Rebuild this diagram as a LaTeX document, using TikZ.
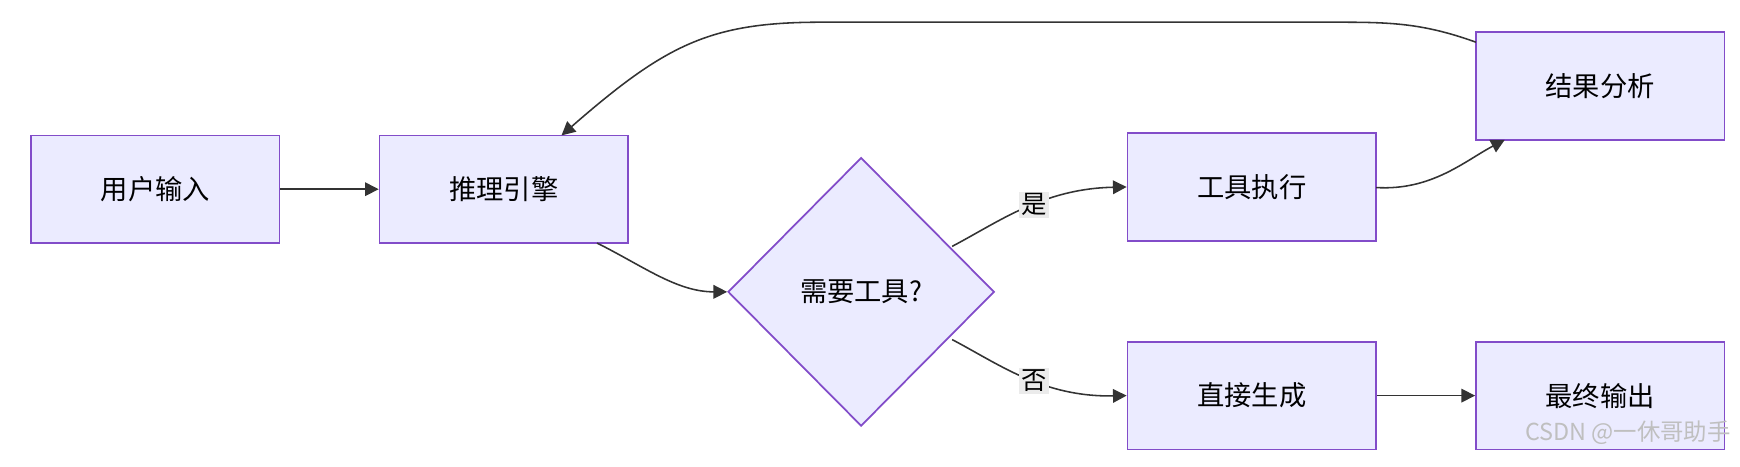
\documentclass[tikz,border=0pt]{standalone}
\usepackage{fontspec}
\setmainfont{Noto Sans CJK SC}
\usetikzlibrary{shapes.geometric,arrows.meta}
\begin{document}
\begin{tikzpicture}[x=0.02cm,y=-0.02cm,
  box/.style={draw=violet!60!blue!70, fill=blue!8, line width=0.9pt, minimum width=4.48cm, minimum height=1.94cm, font=\fontsize{14}{16}\selectfont, inner sep=0pt},
  conn/.style={draw=black!80, line width=0.8pt, -{Triangle[length=7pt,width=7pt]}},
  lab/.style={fill=black!8, font=\fontsize{13}{15}\selectfont, inner sep=1pt}]
\useasboundingbox (0,0) rectangle (1568,420);
\node[box] (a) at (140,170.5) {用户输入};
\node[box] (b) at (454,170.5) {推理引擎};
\node[draw=violet!60!blue!70, fill=blue!8, line width=0.9pt, diamond, minimum width=4.8cm, minimum height=4.84cm, inner sep=0pt, font=\fontsize{14}{16}\selectfont] (d) at (776,263) {需要工具?};
\node[box] (t) at (1128,168.5) {工具执行};
\node[box] (r) at (1442,77.5) {结果分析};
\node[box] (g) at (1128,356.5) {直接生成};
\node[box] (o) at (1442,356.5) {最终输出};
\draw[conn] (a) -- (b);
\draw[conn] (538,219) .. controls (580,240) and (610,263) .. (d.west);
\draw[conn] (858,222) .. controls (900,200) and (940,170) .. (t.west) node[lab, pos=0.55] {是};
\draw[conn] (858,306) .. controls (900,328) and (940,358) .. (g.west) node[lab, pos=0.55] {否};
\draw[conn] (1240,169) .. controls (1290,172) and (1320,145) .. (1356,126);
\draw[conn] (1330,38) .. controls (1280,20) and (1250,20) .. (1200,20) -- (740,20) .. controls (640,20) and (600,40) .. (506,122);
\draw[conn] (g) -- (o);
\node[text=black!25, font=\fontsize{12}{14}\selectfont] (w) at (1467,390) {CSDN @一休哥助手};
\end{tikzpicture}
\end{document}
